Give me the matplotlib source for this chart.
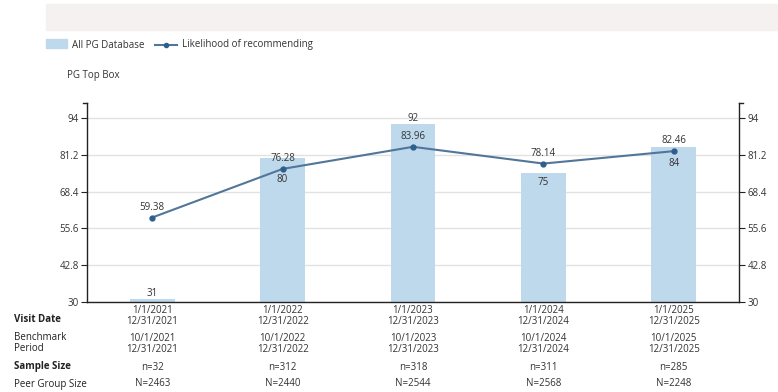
import numpy as np
import matplotlib.pyplot as plt
from matplotlib.patches import Rectangle
from matplotlib.lines import Line2D

plt.rcParams['font.family'] = ['Open Sans', 'DejaVu Sans']

visit_dates = ['1/1/2021\n12/31/2021', '1/1/2022\n12/31/2022', '1/1/2023\n12/31/2023',
               '1/1/2024\n12/31/2024', '1/1/2025\n12/31/2025']
benchmark_periods = ['10/1/2021\n12/31/2021', '10/1/2022\n12/31/2022', '10/1/2023\n12/31/2023',
                     '10/1/2024\n12/31/2024', '10/1/2025\n12/31/2025']
sample_sizes = [32, 312, 318, 311, 285]
peer_group_sizes = [2463, 2440, 2544, 2568, 2248]
pg_database = [31, 80, 92, 75, 84]
likelihood = [59.38, 76.28, 83.96, 78.14, 82.46]
y_ticks = [30, 42.8, 55.6, 68.4, 81.2, 94]

BAR_COLOR = '#bed8ec'
LINE_COLOR = '#52769a'
MARKER_COLOR = '#2e5f8c'
TEXT_COLOR = '#333333'
FS = 7

# vertical offset (points) of each bar's value label, relative to the bar top
bar_label_offsets = [4, -15, 4, -7, -12]

fig = plt.figure(figsize=(7.78, 3.92), dpi=100)
W, H = 778, 392

def fx(px):
    return px / W

def fy(py):
    return 1 - py / H

# header band
fig.patches.append(Rectangle((fx(46), fy(30)), fx(778) - fx(46), fy(4) - fy(30),
                             transform=fig.transFigure, color='#f5f1f0', zorder=0))

# legend
fig.patches.append(Rectangle((fx(46), fy(47.5)), fx(67) - fx(46), fy(38.5) - fy(47.5),
                             transform=fig.transFigure, color=BAR_COLOR))
fig.text(fx(72), fy(45), 'All PG Database', fontsize=FS, color=TEXT_COLOR, va='center')
fig.add_artist(Line2D([fx(155), fx(177)], [fy(45), fy(45)], transform=fig.transFigure,
                      color=LINE_COLOR, lw=1.5))
fig.add_artist(Line2D([fx(166)], [fy(45)], transform=fig.transFigure, marker='o',
                      markersize=3, color=MARKER_COLOR))
fig.text(fx(182), fy(45), 'Likelihood of recommending', fontsize=FS, color=TEXT_COLOR, va='center')
fig.text(fx(67), fy(75.5), 'PG Top Box', fontsize=FS, color=TEXT_COLOR, va='center')

ax = fig.add_axes([fx(87), fy(302), fx(739) - fx(87), fy(103) - fy(302)])
x = np.arange(len(pg_database))
ax.set_xlim(-0.5, len(x) - 0.5)
ax.set_ylim(30, 99.2)

ax.bar(x, [v - 30 for v in pg_database], bottom=30, width=0.345, color=BAR_COLOR, zorder=2)
ax.plot(x, likelihood, color=LINE_COLOR, lw=1.5, zorder=3)
ax.plot(x, likelihood, 'o', color=MARKER_COLOR, markersize=3.5, zorder=4)

for xi, v, off in zip(x, pg_database, bar_label_offsets):
    ax.annotate(f'{v}', (xi, v), xytext=(0, off), textcoords='offset points',
                ha='center', va='center', fontsize=FS, color=TEXT_COLOR, zorder=5)
for xi, v in zip(x, likelihood):
    ax.annotate(f'{v:.2f}', (xi, v), xytext=(0, 7.5), textcoords='offset points',
                ha='center', va='center', fontsize=FS, color=TEXT_COLOR, zorder=5)

ax.set_yticks(y_ticks)
ax.set_yticklabels([f'{t:g}' for t in y_ticks])
ax.yaxis.grid(True, color='#e2e2e2', lw=1, zorder=0)
ax.set_axisbelow(True)
ax.tick_params(axis='y', labelsize=FS, colors=TEXT_COLOR, length=4, width=0.8,
               direction='out', right=True, labelright=True, pad=2)
ax.tick_params(axis='y', color='#222222')
ax.set_xticks([])
for side in ['left', 'right', 'bottom']:
    ax.spines[side].set_color('#222222')
    ax.spines[side].set_linewidth(1)
ax.spines['top'].set_visible(False)

# end caps at the top of both vertical axes
ax.plot([-0.5 - 0.03, -0.5], [99.2, 99.2], color='#222222', lw=1, clip_on=False)
ax.plot([len(x) - 0.5, len(x) - 0.5 + 0.03], [99.2, 99.2], color='#222222', lw=1, clip_on=False)

# table under the chart
rows = [('Visit Date', 'bold', 320), ('Benchmark\nPeriod', 'normal', 343),
        ('Sample Size', 'bold', 366), ('Peer Group Size', 'normal', 384)]
for label, weight, py in rows:
    fig.text(fx(14), fy(py), label, fontsize=FS, fontweight=weight, color='#222222',
             va='center', linespacing=1.0)

for xi, vd, bp, n, N in zip(x, visit_dates, benchmark_periods, sample_sizes, peer_group_sizes):
    px = ax.transData.transform((xi, 30))[0] / fig.dpi / fig.get_figwidth()
    fig.text(px, fy(316), vd, fontsize=FS, ha='center', va='center', color=TEXT_COLOR, linespacing=0.95)
    fig.text(px, fy(344), bp, fontsize=FS, ha='center', va='center', color=TEXT_COLOR, linespacing=0.95)
    fig.text(px, fy(367), f'n={n}', fontsize=FS, ha='center', va='center', color=TEXT_COLOR)
    fig.text(px, fy(384), f'N={N}', fontsize=FS, ha='center', va='center', color=TEXT_COLOR)

fig.savefig('out.png', dpi=100)
